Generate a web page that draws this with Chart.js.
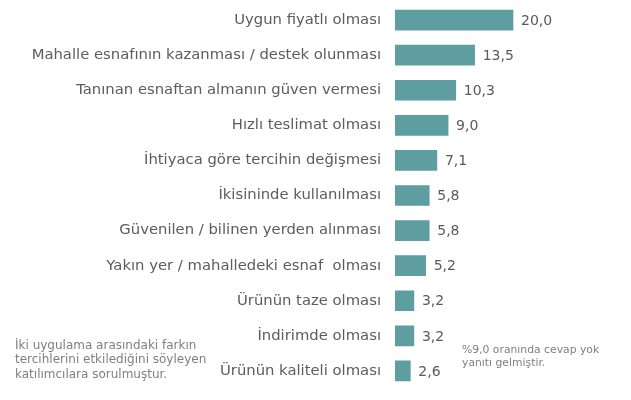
<!DOCTYPE html>
<html>
<head>
<meta charset="utf-8">
<script src="https://cdn.jsdelivr.net/npm/chart.js@4"></script>
<style>
  html, body { margin: 0; padding: 0; background: #fff; }
  #wrap { width: 631px; height: 400px; position: relative; }
</style>
</head>
<body>
<div id="wrap"><canvas id="grafik"></canvas></div>
<script>
const kategoriler = [
  'Uygun fiyatlı olması',
  'Mahalle esnafının kazanması / destek olunması',
  'Tanınan esnaftan almanın güven vermesi',
  'Hızlı teslimat olması',
  'İhtiyaca göre tercihin değişmesi',
  'İkisininde kullanılması',
  'Güvenilen / bilinen yerden alınması',
  'Yakın yer / mahalledeki esnaf  olması',
  'Ürünün taze olması',
  'İndirimde olması',
  'Ürünün kaliteli olması'
];
const degerler = [20.0, 13.5, 10.3, 9.0, 7.1, 5.8, 5.8, 5.2, 3.2, 3.2, 2.6];
const notSol = [
  'İki uygulama arasındaki farkın',
  'tercihlerini etkilediğini söyleyen',
  'katılımcılara sorulmuştur.'
];
const notSag = ['%9,0 oranında cevap yok', 'yanıtı gelmiştir.'];

const fontAile = '"DejaVu Sans", Verdana, sans-serif';

// bar sonundaki degerler ve alt notlar
const etiketEklentisi = {
  id: 'etiketler',
  afterDatasetsDraw(chart) {
    const ctx = chart.ctx;
    const meta = chart.getDatasetMeta(0);
    ctx.save();
    ctx.font = '14px ' + fontAile;
    ctx.fillStyle = '#5a5a5a';
    ctx.textBaseline = 'middle';
    ctx.textAlign = 'left';
    meta.data.forEach((bar, i) => {
      ctx.fillText(degerler[i].toFixed(1).replace('.', ','), bar.x + 8, bar.y + 1);
    });

    ctx.fillStyle = '#7f7f7f';
    ctx.font = '12px ' + fontAile;
    notSol.forEach((s, i) => ctx.fillText(s, 15, 346 + i * 14.2));
    ctx.font = '10.8px ' + fontAile;
    notSag.forEach((s, i) => ctx.fillText(s, 462, 350 + i * 13));
    ctx.restore();
  }
};

const ctx = document.getElementById('grafik').getContext('2d');

new Chart(ctx, {
  type: 'bar',
  data: {
    labels: kategoriler,
    datasets: [{
      data: degerler,
      backgroundColor: '#5f9ea0',
      barThickness: 20
    }]
  },
  options: {
    indexAxis: 'y',
    responsive: true,
    maintainAspectRatio: false,
    animation: false,
    layout: { padding: { top: 2.5, bottom: 11.5, right: 59, left: 0 } },
    plugins: {
      legend: { display: false },
      tooltip: { enabled: false }
    },
    scales: {
      x: {
        display: false,
        min: 0,
        max: 30
      },
      y: {
        afterFit(scale) {
          scale.width = 395;
          scale.paddingTop = 0;
          scale.paddingBottom = 0;
        },
        grid: { display: false, drawTicks: false },
        border: { display: false },
        ticks: {
          padding: 14,
          color: '#5c5c5c',
          font: { size: 14.8, family: fontAile }
        }
      }
    }
  },
  plugins: [etiketEklentisi]
});
</script>
</body>
</html>
